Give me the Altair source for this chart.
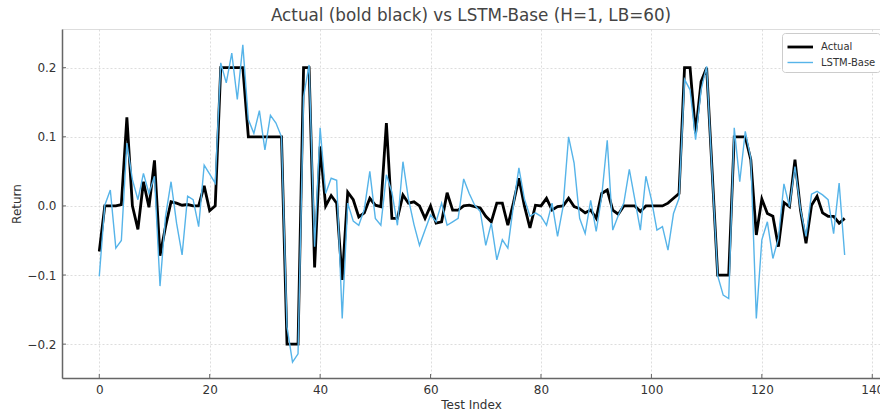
import altair as alt
import pandas as pd

# ---- data ----
actual = [
    -0.066, 0.0, 0.0, 0.0, 0.002, 0.128, 0.0, -0.034, 0.035, -0.002,
    0.066, -0.072, -0.03, 0.006, 0.004, 0.001, 0.002, 0.0, 0.0, 0.029,
    -0.007, 0.0, 0.2, 0.2, 0.2, 0.2, 0.2, 0.1, 0.1, 0.1,
    0.1, 0.1, 0.1, 0.1, -0.2, -0.2, -0.2, 0.2, 0.2, -0.089,
    0.086, 0.0, 0.015, 0.004, -0.107, 0.02, 0.009, -0.016, -0.01, 0.011,
    0.001, -0.001, 0.12, -0.018, -0.018, 0.016, 0.004, 0.006, 0.0, -0.018,
    0.0, -0.025, -0.023, 0.019, -0.006, -0.006, 0.0, 0.001, -0.001, -0.003,
    -0.015, -0.023, 0.004, 0.004, -0.028, 0.004, 0.04, 0.0, -0.032, 0.001,
    0.0, 0.011, -0.006, -0.001, 0.0, 0.011, -0.001, -0.004, -0.01, -0.006,
    -0.018, 0.018, 0.023, -0.006, -0.012, 0.0, 0.0, 0.0, -0.008, 0.0,
    0.0, 0.0, 0.0, 0.004, 0.011, 0.018, 0.2, 0.2, 0.105, 0.18,
    0.2, 0.05, -0.1, -0.1, -0.1, 0.1, 0.1, 0.1, 0.067, -0.042,
    0.01, -0.011, -0.015, -0.059, 0.005, -0.001, 0.067, -0.006, -0.054, 0.001,
    0.014, -0.01, -0.015, -0.015, -0.025, -0.018,
]
lstm_base = [
    -0.102, 0.001, 0.023, -0.061, -0.05, 0.091, 0.038, 0.009, 0.047, 0.018,
    0.043, -0.116, -0.015, 0.035, -0.025, -0.071, 0.014, 0.009, -0.03, 0.059,
    0.046, 0.033, 0.207, 0.178, 0.221, 0.154, 0.233, 0.125, 0.105, 0.138,
    0.081, 0.131, 0.12, 0.1, -0.175, -0.226, -0.214, 0.158, 0.204, -0.059,
    0.113, 0.018, 0.04, 0.037, -0.163, 0.004, -0.022, -0.028, -0.005, 0.05,
    -0.018, -0.028, 0.045, 0.02, -0.028, 0.064, 0.01, -0.027, -0.057, -0.035,
    -0.013, -0.023, 0.004, -0.028, -0.023, -0.018, 0.039, 0.018, 0.001, -0.008,
    -0.057, -0.025, -0.078, -0.049, -0.061, 0.0, 0.055, 0.01, -0.015, -0.01,
    -0.015, -0.028, 0.004, -0.044, -0.001, 0.1, 0.062, -0.018, -0.04, 0.008,
    -0.037, 0.014, 0.095, -0.035, -0.014, 0.004, 0.053, 0.009, -0.035, 0.043,
    0.009, -0.035, -0.03, -0.064, -0.011, 0.011, 0.183, 0.168, 0.096, 0.168,
    0.202, 0.047, -0.101, -0.129, -0.134, 0.113, 0.035, 0.108, 0.069, -0.163,
    -0.049, -0.023, -0.076, -0.047, 0.032, -0.001, 0.057, -0.005, -0.044, 0.017,
    0.021, 0.016, 0.009, -0.04, 0.033, -0.071,
]
series_names = ["Actual", "LSTM-Base"]
series_colors = ["#000000", "#56B4E9"]
series_widths = [2.8, 1.4]
x_ticks = [0, 20, 40, 60, 80, 100, 120, 140]
y_ticks = [-0.2, -0.1, 0.0, 0.1, 0.2]

idx = list(range(len(actual)))
df = pd.DataFrame(
    {"Test Index": idx + idx,
     "Return": actual + lstm_base,
     "Series": [series_names[0]] * len(actual) + [series_names[1]] * len(lstm_base)}
)

W, H = 818, 349
FONT = "DejaVu Sans"

xscale = alt.Scale(domain=[-6.75, 141.4], nice=False, zero=False)
yscale = alt.Scale(domain=[-0.249, 0.256], nice=False, zero=False)

xaxis = alt.Axis(values=x_ticks, title="Test Index", ticks=False, labelPadding=6,
                 grid=True, gridDash=[2, 2], gridColor="#d4d4d4", gridWidth=0.8,
                 domainColor="#666666", domainWidth=1.5, labelFontSize=12,
                 titleFontSize=12, titleFontWeight="normal", titlePadding=4,
                 labelColor="#333333", titleColor="#333333", labelFont=FONT, titleFont=FONT)
yaxis = alt.Axis(values=y_ticks, title="Return", ticks=False, labelPadding=6,
                 labelExpr="replace(format(datum.value, '.1f'), '-', '\u2212')",
                 grid=True, gridDash=[2, 2], gridColor="#d4d4d4", gridWidth=0.8,
                 domainColor="#666666", domainWidth=1.5, labelFontSize=12,
                 titleFontSize=12, titleFontWeight="normal", titlePadding=3,
                 labelColor="#333333", titleColor="#333333", labelFont=FONT, titleFont=FONT)

color = alt.Color("Series:N", scale=alt.Scale(domain=series_names, range=series_colors),
                  legend=alt.Legend(title=None, orient="none", legendX=720, legendY=4,
                                    symbolType="M-1,0L2,0", symbolSize=289, symbolStrokeWidth=2,
                                    labelFontSize=10, labelFont=FONT, labelColor="#333333",
                                    strokeColor="#cccccc", fillColor="white", cornerRadius=3,
                                    padding=4, rowPadding=0, labelOffset=15))
width = alt.StrokeWidth("Series:N", scale=alt.Scale(domain=series_names, range=series_widths),
                        legend=None)

base = alt.Chart(df).mark_line(strokeJoin="miter").encode(
    x=alt.X("Test Index:Q", scale=xscale, axis=xaxis),
    y=alt.Y("Return:Q", scale=yscale, axis=yaxis),
    color=color,
    strokeWidth=width,
)
l_actual = base.transform_filter(alt.datum.Series == "Actual")
l_lstm = base.transform_filter(alt.datum.Series == "LSTM-Base")

# inward tick marks
xt = alt.Chart(pd.DataFrame({"t": x_ticks})).mark_rule(color="#666666", strokeWidth=1).encode(
    x=alt.X("t:Q", scale=xscale), y=alt.value(H), y2=alt.value(H - 4))
yt = alt.Chart(pd.DataFrame({"t": y_ticks})).mark_rule(color="#666666", strokeWidth=1).encode(
    y=alt.Y("t:Q", scale=yscale), x=alt.value(0), x2=alt.value(4))

chart = alt.layer(l_actual, l_lstm, xt, yt).properties(
    width=W, height=H,
    title=alt.TitleParams("Actual (bold black) vs LSTM-Base (H=1, LB=60)", fontSize=16.8,
                          font=FONT, fontWeight="normal", color="#444444", offset=4,
                          anchor="middle"),
    autosize=alt.AutoSizeParams(type="none"),
    padding={"left": 62, "top": 29, "right": 0, "bottom": 33},
).configure_view(stroke=None).configure(background="white")

chart.save("out.html", embed_options={"renderer": "svg", "actions": False})
